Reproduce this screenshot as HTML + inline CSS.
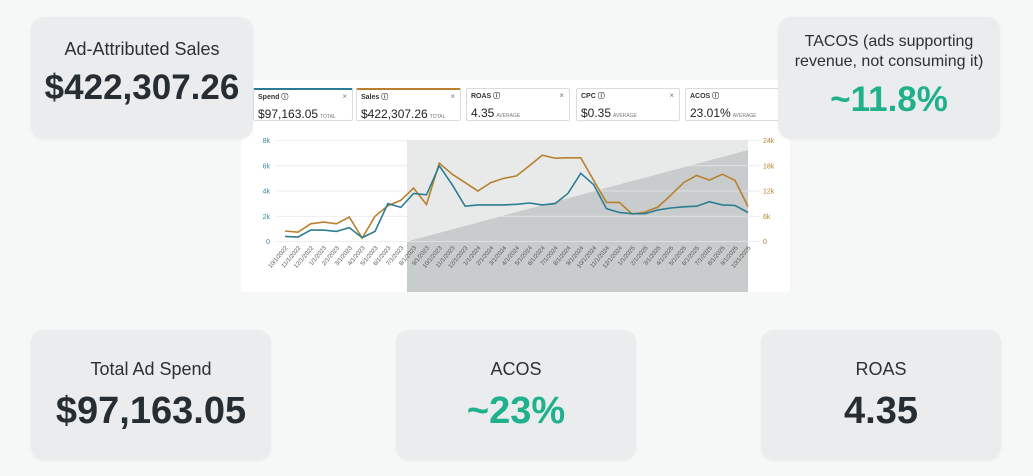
<!DOCTYPE html>
<html><head><meta charset="utf-8"><style>
body{margin:0;width:1033px;height:476px;background:#f6f7f7;font-family:"Liberation Sans",sans-serif;position:relative;overflow:hidden;color:#262d33}
.card{position:absolute;background:#eaeced;border-radius:13px;text-align:center;box-shadow:0 1px 3px rgba(0,0,0,0.04)}
.lab{font-size:18px;color:#2b3137}
.val{font-weight:bold;color:#262d33}
.green{color:#1fb08c}
#chart{position:absolute;left:241px;top:80px;width:549px;height:212px;background:#fff;border-radius:4px}
.tile{position:absolute;top:88px;height:33px;background:#fff;border:1px solid #dadde0;border-radius:2px;box-sizing:border-box;padding:2px 4px}
.tile .h{font-size:7px;font-weight:bold;color:#333}
.tile .x{position:absolute;right:5px;top:2px;font-size:8px;color:#777}
.tile .v{font-size:12px;margin-top:5px;color:#222}
.tile .v small{font-size:5px;color:#777;margin-left:2px}
</style></head><body>
<div id="chart"></div>
<div class="tile" style="left:253px;width:100px;border-top:2px solid #2a7d92"><div class="h">Spend ⓘ</div><span class="x">×</span><div class="v">$97,163.05<small>TOTAL</small></div></div>
<div class="tile" style="left:356px;width:105px;border-top:2px solid #b9802f"><div class="h">Sales ⓘ</div><span class="x">×</span><div class="v">$422,307.26<small>TOTAL</small></div></div>
<div class="tile" style="left:466px;width:104px"><div class="h">ROAS ⓘ</div><span class="x">×</span><div class="v">4.35<small>AVERAGE</small></div></div>
<div class="tile" style="left:576px;width:104px"><div class="h">CPC ⓘ</div><span class="x">×</span><div class="v">$0.35<small>AVERAGE</small></div></div>
<div class="tile" style="left:685px;width:100px"><div class="h">ACOS ⓘ</div><div class="v">23.01%<small>AVERAGE</small></div></div>
<svg id="svg" style="position:absolute;left:0;top:0" width="1033" height="476" font-family="Liberation Sans" font-size="7"></svg>
<div class="card" style="left:31px;top:17px;width:222px;height:122px"><div class="lab" style="margin-top:22px">Ad-Attributed Sales</div><div class="val" style="font-size:35px;margin-top:8px">$422,307.26</div></div>
<div class="card" style="left:778px;top:17px;width:222px;height:122px"><div class="lab" style="font-size:16px;margin-top:15px;line-height:20px">TACOS (ads supporting<br>revenue, not consuming it)</div><div class="val green" style="font-size:35px;margin-top:8px">~11.8%</div></div>
<div class="card" style="left:31px;top:330px;width:240px;height:130px"><div class="lab" style="margin-top:29px">Total Ad Spend</div><div class="val" style="font-size:38px;margin-top:10px">$97,163.05</div></div>
<div class="card" style="left:396px;top:330px;width:240px;height:130px"><div class="lab" style="margin-top:29px">ACOS</div><div class="val green" style="font-size:38px;margin-top:10px">~23%</div></div>
<div class="card" style="left:761px;top:330px;width:240px;height:130px"><div class="lab" style="margin-top:29px">ROAS</div><div class="val" style="font-size:38px;margin-top:10px">4.35</div></div>
<script>
var s=document.getElementById('svg'),h='';
var x0=285,x1=748,y0=241.5,y8=140.5;
h+='<rect x="407" y="140" width="341" height="152" fill="#e8eaea"/>';
h+='<polygon points="407,241.5 748,150 748,292 407,292" fill="#c9cccd"/>';
for(var i=0;i<=4;i++){var y=y0-(y0-y8)*i/4;h+='<line x1="276" x2="760" y1="'+y+'" y2="'+y+'" stroke="#e6e8ea" stroke-width="0.8"/>';
h+='<text x="270" y="'+(y+2.5)+'" text-anchor="end" fill="#3a8aa0">'+(i?i*2+'k':'0')+'</text>';
h+='<text x="763" y="'+(y+2.5)+'" fill="#b9802f">'+(i?i*6+'k':'0')+'</text>';}
var sp=[0.4,0.35,0.9,0.9,0.8,1.1,0.3,0.8,3.0,2.7,3.8,3.7,6.0,4.5,2.8,2.9,2.9,2.9,2.95,3.05,2.9,3.0,3.8,5.4,4.5,2.6,2.3,2.2,2.2,2.5,2.65,2.75,2.8,3.15,2.9,2.85,2.3];
var sa=[2.5,2.2,4.2,4.6,4.2,5.8,0.8,6,8.5,9.8,12.7,8.8,18.6,16,14,12,14,15,15.6,18,20.5,19.8,19.9,19.9,14.5,9.3,9.3,6.5,7,8.2,11,14,15.7,14.6,16,14.5,8.3];
function pts(a,m){return a.map(function(v,i){return (x0+(x1-x0)*i/36).toFixed(1)+','+(y0-(y0-y8)*v/m).toFixed(1)}).join(' ')}
h+='<polyline points="'+pts(sa,24)+'" fill="none" stroke="#b9802f" stroke-width="1.6"/>';
h+='<polyline points="'+pts(sp,8)+'" fill="none" stroke="#2a7d92" stroke-width="1.6"/>';
for(var i=0;i<37;i++){var m=(9+i)%12+1,yr=2022+Math.floor((9+i)/12);var x=x0+(x1-x0)*i/36+3;
h+='<text x="'+x+'" y="248" text-anchor="end" fill="#555" font-size="6" transform="rotate(-50 '+x+' 248)">'+m+'/1/'+yr+'</text>';}
s.innerHTML=h;
</script>
</body></html>
